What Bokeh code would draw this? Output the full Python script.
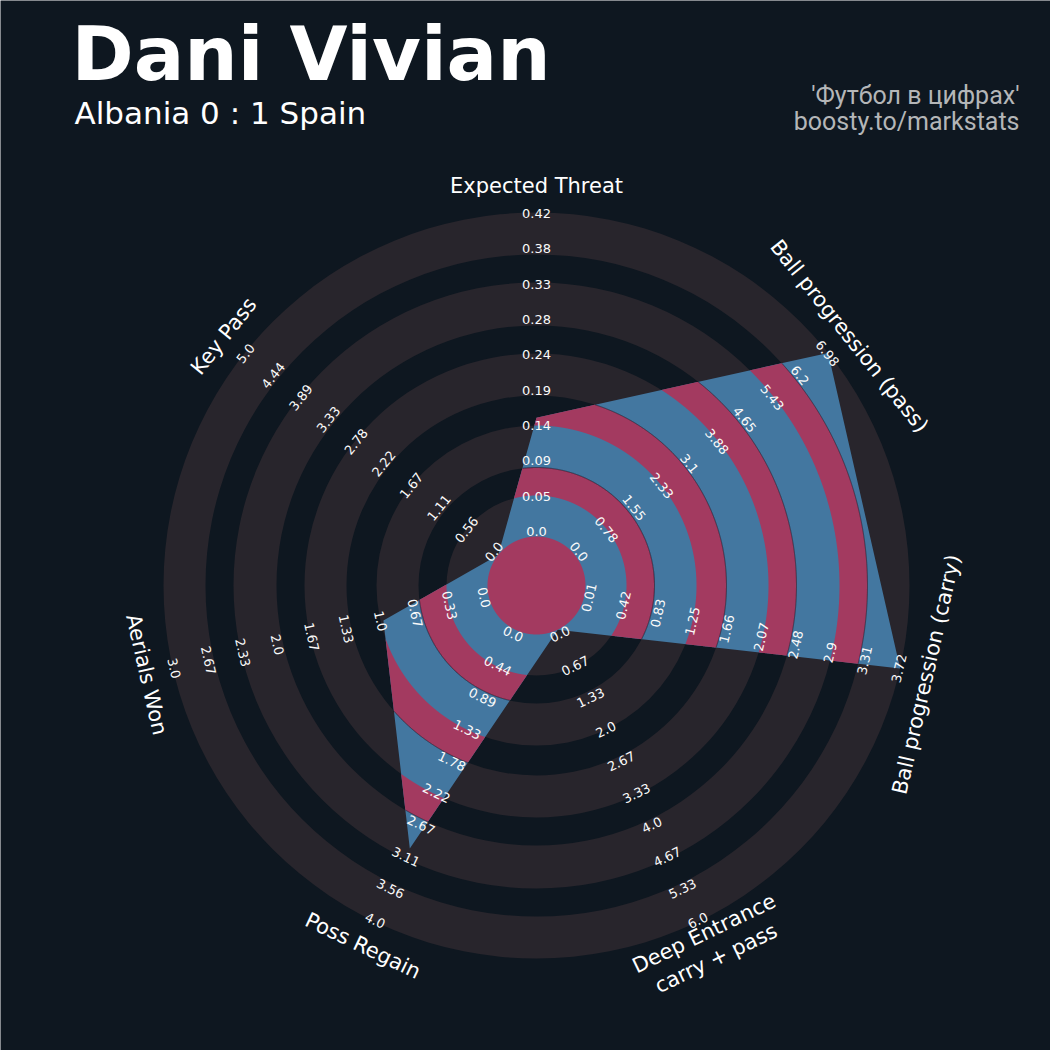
import numpy as np
from bokeh.plotting import figure
from bokeh.models import Range1d
from bokeh.core.properties import value
from bokeh.embed import file_html
from bokeh.resources import INLINE

# ---------------- data ----------------
PARAMS = ["Expected Threat", "Ball progression (pass)", "Ball progression (carry)",
          "Deep Entrance\ncarry + pass", "Poss Regain", "Aerials Won", "Key Pass"]
MIN_RANGE = [0.0, 0.0, 0.01, 0.0, 0.0, 0.0, 0.0]
MAX_RANGE = [0.42, 6.98, 3.72, 6.0, 4.0, 3.0, 5.0]
PLAYER_VALUES = [0.154, 6.98, 3.72, 0.0, 3.0, 1.0, 0.0]
TICK_LABELS = [
    ["0.0", "0.05", "0.09", "0.14", "0.19", "0.24", "0.28", "0.33", "0.38", "0.42"],
    ["0.0", "0.78", "1.55", "2.33", "3.1", "3.88", "4.65", "5.43", "6.2", "6.98"],
    ["0.01", "0.42", "0.83", "1.25", "1.66", "2.07", "2.48", "2.9", "3.31", "3.72"],
    ["0.0", "0.67", "1.33", "2.0", "2.67", "3.33", "4.0", "4.67", "5.33", "6.0"],
    ["0.0", "0.44", "0.89", "1.33", "1.78", "2.22", "2.67", "3.11", "3.56", "4.0"],
    ["0.0", "0.33", "0.67", "1.0", "1.33", "1.67", "2.0", "2.33", "2.67", "3.0"],
    ["0.0", "0.56", "1.11", "1.67", "2.22", "2.78", "3.33", "3.89", "4.44", "5.0"],
]
TITLE = "Dani Vivian"
SUBTITLE = "Albania 0 : 1 Spain"
CREDIT = ["'Футбол в цифрах'", "boosty.to/markstats"]

# ---------------- style / layout ----------------
BG = "#0e1720"
RING = "#28252c"
BLUE = "#4377a0"
PINK = "#a33a60"
R0, RMAX = 49.0, 373.0
GRAY_BANDS = [(49, 90), (118, 160), (190, 232), (260, 303), (331, 373)]
PINK_BANDS = [(0, 49), (90, 118), (160, 190), (232, 260), (303, 331)]
LABEL_R0, LABEL_R1 = 54.0, 372.0
PARAM_R = 400.0

W = H = 1050
CX, CY = 536, 585  # radar centre in page pixels; data units == pixels
p = figure(width=W, height=H, x_range=Range1d(-CX, W - CX), y_range=Range1d(-(H - CY), CY),
           output_backend="svg", toolbar_location=None, x_axis_location=None, y_axis_location=None,
           min_border=0, background_fill_color=BG, border_fill_color=BG, outline_line_color=None)
p.grid.visible = False

n = len(PARAMS)
theta = np.pi / 2 - np.arange(n) * 2 * np.pi / n


def to_radius(v, lo, hi):
    v = min(max(v, lo), hi)
    return R0 + (v - lo) / (hi - lo) * (RMAX - R0)


vr = np.array([to_radius(v, lo, hi) for v, lo, hi in zip(PLAYER_VALUES, MIN_RANGE, MAX_RANGE)])
vx = vr * np.cos(theta)
vy = vr * np.sin(theta)


def rho(th):
    dx, dy = np.cos(th), np.sin(th)
    out = np.full(th.shape, np.inf)
    for i in range(n):
        ax_, ay_ = vx[i], vy[i]
        ex, ey = vx[(i + 1) % n] - ax_, vy[(i + 1) % n] - ay_
        den = dx * ey - dy * ex
        with np.errstate(divide="ignore", invalid="ignore"):
            t = (ax_ * ey - ay_ * ex) / den
            s = (ax_ * dy - ay_ * dx) / den
        ok = (np.abs(den) > 1e-12) & (t > 0) & (s >= -1e-9) & (s <= 1 + 1e-9)
        out = np.where(ok, np.minimum(out, t), out)
    return out


# gray rings
p.annulus(x=[0] * len(GRAY_BANDS), y=[0] * len(GRAY_BANDS),
          inner_radius=[a for a, b in GRAY_BANDS], outer_radius=[b for a, b in GRAY_BANDS],
          fill_color=RING, line_color=None)

# radar polygon
p.patch(list(vx), list(vy), fill_color=BLUE, line_color=None)

# pink rings clipped to polygon
ths = theta[3] + np.linspace(0, 2 * np.pi, 7201)
rh = rho(ths)
pxs, pys, exs, eys = [], [], [], []
for a, b in PINK_BANDS:
    if a == 0:
        r = np.minimum(b, rh)
        pxs.append(list(r * np.cos(ths)))
        pys.append(list(r * np.sin(ths)))
        continue
    idx = np.flatnonzero(rh > a)
    if len(idx) == 0:
        continue
    for run in np.split(idx, np.flatnonzero(np.diff(idx) > 1) + 1):
        t = ths[run]
        r = np.minimum(b, rh[run])
        pxs.append(list(r * np.cos(t)) + list(a * np.cos(t[::-1])))
        pys.append(list(r * np.sin(t)) + list(a * np.sin(t[::-1])))
    eidx = np.flatnonzero(rh > b)
    if len(eidx):
        for run in np.split(eidx, np.flatnonzero(np.diff(eidx) > 1) + 1):
            t = ths[run]
            exs.append(list(b * np.cos(t)))
            eys.append(list(b * np.sin(t)))
p.patches(pxs, pys, fill_color=PINK, line_color=None)
p.multi_line(exs, eys, line_color="#1b1f2a", line_width=1.0, line_alpha=0.6)


def rot_of(th):
    deg = (np.degrees(th) + 180) % 360 - 180
    r = deg - 90
    while r < -90:
        r += 180
    return np.radians(r)


# range labels
lr = np.linspace(LABEL_R0, LABEL_R1, 10)
lx, ly, lt, la = [], [], [], []
for i in range(n):
    for k, lab in enumerate(TICK_LABELS[i]):
        lx.append(lr[k] * np.cos(theta[i]))
        ly.append(lr[k] * np.sin(theta[i]))
        lt.append(lab)
        la.append(rot_of(theta[i]))
p.text(x=lx, y=ly, text=lt, angle=la, text_font=value("DejaVu Sans"), text_font_size=value("13px"),
       text_color="#fafafa", text_align="center", text_baseline="middle")

# parameter labels
p.text(x=list(PARAM_R * np.cos(theta)), y=list(PARAM_R * np.sin(theta)), text=PARAMS,
       angle=[rot_of(t) for t in theta], text_font=value("DejaVu Sans"), text_font_size=value("21px"),
       text_color="#ffffff", text_align="center", text_baseline="middle", text_line_height=1.15)

# titles (page pixel -> data: x-CX, CY-y), anchored at ink middle
p.text(x=[71 - CX], y=[CY - 53.5], text=[TITLE], text_font=value("DejaVu Sans"), text_font_style="bold",
       text_font_size=value("75px"), text_color="#ffffff", text_align="left", text_baseline="middle")
p.text(x=[74 - CX], y=[CY - 112], text=[SUBTITLE], text_font=value("DejaVu Sans"),
       text_font_size=value("31px"), text_color="#ffffff", text_align="left", text_baseline="middle")
p.text(x=[1019 - CX, 1019 - CX], y=[CY - 95, CY - 121], text=CREDIT, text_font=value("Roboto"),
       text_font_size=value("25px"), text_color="#b4b6b8", text_align="right", text_baseline="middle")

html = file_html(p, INLINE)
open("out.html", "w").write(html)
